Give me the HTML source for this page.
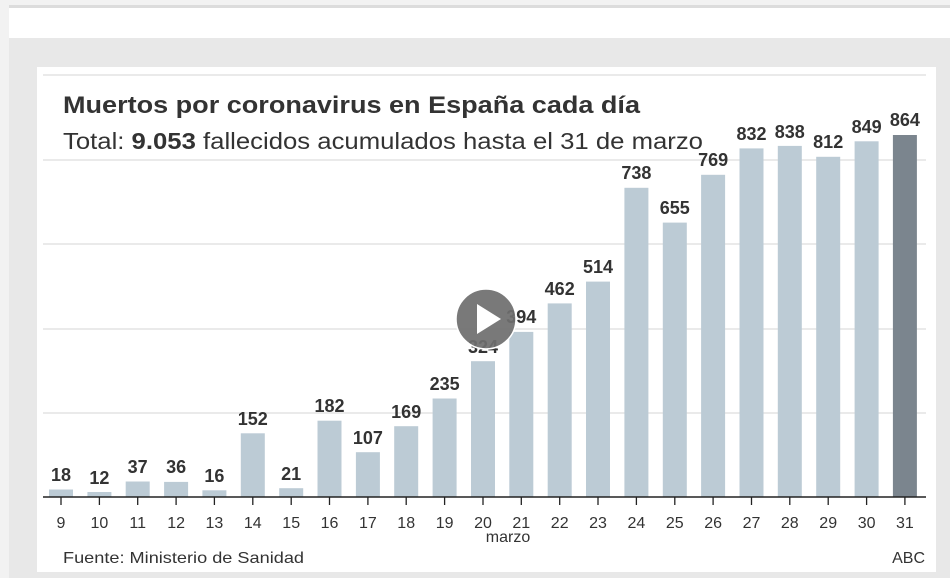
<!DOCTYPE html>
<html><head><meta charset="utf-8"><style>
html,body{margin:0;padding:0;width:950px;height:578px;overflow:hidden;background:#f2f2f2;}
svg{display:block;font-family:"Liberation Sans",sans-serif;}
</style></head><body>
<svg width="950" height="578" viewBox="0 0 950 578">
<rect x="0" y="0" width="950" height="578" fill="#f2f2f2"/>
<rect x="9" y="5" width="941" height="3" fill="#dcdcdc"/>
<rect x="9" y="8" width="941" height="30" fill="#ffffff"/>
<rect x="9" y="38" width="941" height="540" fill="#e8e8e8"/>
<rect x="37" y="67" width="899" height="505" fill="#ffffff"/>
<g stroke="#e4e4e4" stroke-width="1.5">
<line x1="43" y1="75" x2="926" y2="75"/>
<line x1="43" y1="160" x2="926" y2="160"/>
<line x1="43" y1="244" x2="926" y2="244"/>
<line x1="43" y1="329" x2="926" y2="329"/>
<line x1="43" y1="413" x2="926" y2="413"/>
</g>
<text x="63" y="113" font-size="24" font-weight="bold" fill="#333" textLength="577" lengthAdjust="spacingAndGlyphs">Muertos por coronavirus en España cada día</text>
<text x="63" y="149" font-size="23" fill="#333" textLength="640" lengthAdjust="spacingAndGlyphs">Total: <tspan font-weight="bold">9.053</tspan> fallecidos acumulados hasta el 31 de marzo</text>
<g fill="#bccbd5">
<rect x="49" y="489.5" width="24" height="7.5"/>
<rect x="87.4" y="492" width="24" height="5"/>
<rect x="125.7" y="481.5" width="24" height="15.5"/>
<rect x="164.1" y="481.9" width="24" height="15.1"/>
<rect x="202.4" y="490.3" width="24" height="6.7"/>
<rect x="240.8" y="433.3" width="24" height="63.7"/>
<rect x="279.2" y="488.2" width="24" height="8.8"/>
<rect x="317.5" y="420.7" width="24" height="76.3"/>
<rect x="355.9" y="452.2" width="24" height="44.8"/>
<rect x="394.2" y="426.2" width="24" height="70.8"/>
<rect x="432.6" y="398.5" width="24" height="98.5"/>
<rect x="471" y="361.2" width="24" height="135.8"/>
<rect x="509.3" y="331.9" width="24" height="165.1"/>
<rect x="547.7" y="303.4" width="24" height="193.6"/>
<rect x="586" y="281.6" width="24" height="215.4"/>
<rect x="624.4" y="187.8" width="24" height="309.2"/>
<rect x="662.8" y="222.6" width="24" height="274.4"/>
<rect x="701.1" y="174.8" width="24" height="322.2"/>
<rect x="739.5" y="148.4" width="24" height="348.6"/>
<rect x="777.8" y="145.9" width="24" height="351.1"/>
<rect x="816.2" y="156.8" width="24" height="340.2"/>
<rect x="854.6" y="141.3" width="24" height="355.7"/>
</g>
<rect x="892.9" y="135" width="24" height="362" fill="#7b858e"/>
<g font-size="18" font-weight="bold" fill="#333" text-anchor="middle">
<text x="61" y="481">18</text>
<text x="99.4" y="484">12</text>
<text x="137.7" y="473">37</text>
<text x="176.1" y="473">36</text>
<text x="214.4" y="482">16</text>
<text x="252.8" y="425">152</text>
<text x="291.2" y="480">21</text>
<text x="329.5" y="412">182</text>
<text x="367.9" y="444">107</text>
<text x="406.2" y="418">169</text>
<text x="444.6" y="390">235</text>
<text x="483" y="353">324</text>
<text x="521.3" y="323">394</text>
<text x="559.7" y="295">462</text>
<text x="598" y="273">514</text>
<text x="636.4" y="179">738</text>
<text x="674.8" y="214">655</text>
<text x="713.1" y="166">769</text>
<text x="751.5" y="140">832</text>
<text x="789.8" y="138">838</text>
<text x="828.2" y="148">812</text>
<text x="866.6" y="133">849</text>
<text x="904.9" y="126">864</text>
</g>
<line x1="43" y1="497" x2="926" y2="497" stroke="#222" stroke-width="1.5"/>
<g stroke="#222" stroke-width="1.3">
<line x1="61" y1="497" x2="61" y2="505"/><line x1="99.4" y1="497" x2="99.4" y2="505"/><line x1="137.7" y1="497" x2="137.7" y2="505"/><line x1="176.1" y1="497" x2="176.1" y2="505"/><line x1="214.4" y1="497" x2="214.4" y2="505"/><line x1="252.8" y1="497" x2="252.8" y2="505"/><line x1="291.2" y1="497" x2="291.2" y2="505"/><line x1="329.5" y1="497" x2="329.5" y2="505"/><line x1="367.9" y1="497" x2="367.9" y2="505"/><line x1="406.2" y1="497" x2="406.2" y2="505"/><line x1="444.6" y1="497" x2="444.6" y2="505"/><line x1="483" y1="497" x2="483" y2="505"/><line x1="521.3" y1="497" x2="521.3" y2="505"/><line x1="559.7" y1="497" x2="559.7" y2="505"/><line x1="598" y1="497" x2="598" y2="505"/><line x1="636.4" y1="497" x2="636.4" y2="505"/><line x1="674.8" y1="497" x2="674.8" y2="505"/><line x1="713.1" y1="497" x2="713.1" y2="505"/><line x1="751.5" y1="497" x2="751.5" y2="505"/><line x1="789.8" y1="497" x2="789.8" y2="505"/><line x1="828.2" y1="497" x2="828.2" y2="505"/><line x1="866.6" y1="497" x2="866.6" y2="505"/><line x1="904.9" y1="497" x2="904.9" y2="505"/>
</g>
<g font-size="16" fill="#333" text-anchor="middle">
<text x="61" y="528">9</text><text x="99.4" y="528">10</text><text x="137.7" y="528">11</text><text x="176.1" y="528">12</text><text x="214.4" y="528">13</text><text x="252.8" y="528">14</text><text x="291.2" y="528">15</text><text x="329.5" y="528">16</text><text x="367.9" y="528">17</text><text x="406.2" y="528">18</text><text x="444.6" y="528">19</text><text x="483" y="528">20</text><text x="521.3" y="528">21</text><text x="559.7" y="528">22</text><text x="598" y="528">23</text><text x="636.4" y="528">24</text><text x="674.8" y="528">25</text><text x="713.1" y="528">26</text><text x="751.5" y="528">27</text><text x="789.8" y="528">28</text><text x="828.2" y="528">29</text><text x="866.6" y="528">30</text><text x="904.9" y="528">31</text>
<text x="508" y="542">marzo</text>
</g>
<text x="63" y="563" font-size="16" fill="#333" textLength="241" lengthAdjust="spacingAndGlyphs">Fuente: Ministerio de Sanidad</text>
<text x="925" y="563" font-size="16" fill="#333" text-anchor="end">ABC</text>
<circle cx="486" cy="319" r="30" fill="#6e6e6e" fill-opacity="0.92" stroke="#fff" stroke-width="1.5"/>
<polygon points="477,304 477,334 501,319" fill="#fff"/>
</svg>
</body></html>
